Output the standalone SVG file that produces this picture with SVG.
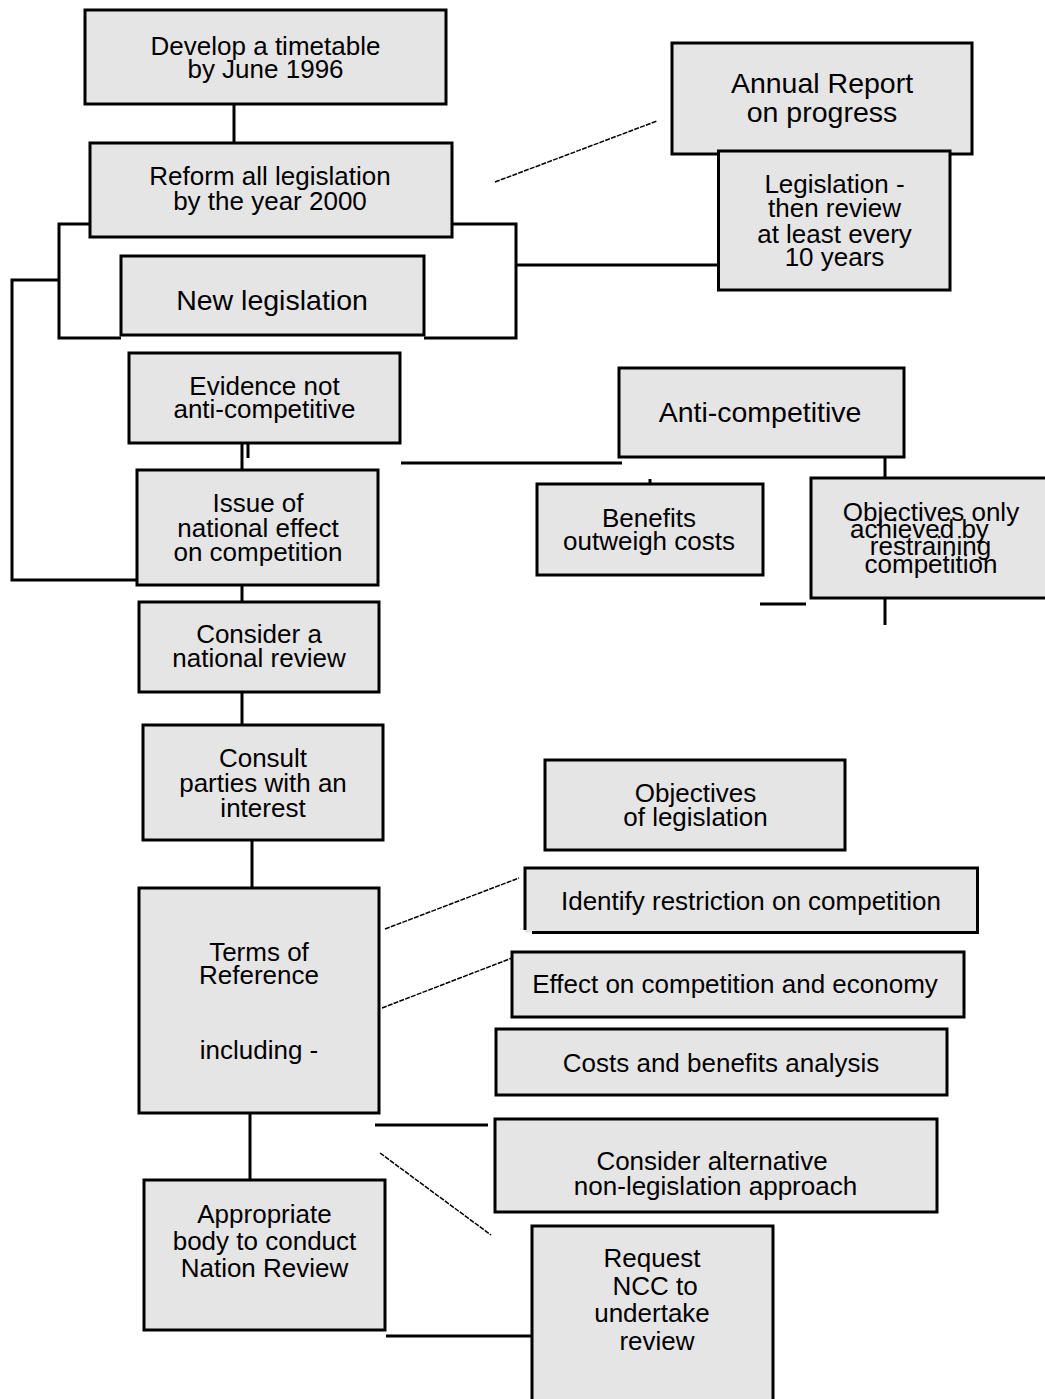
<svg xmlns="http://www.w3.org/2000/svg" width="1045" height="1399" viewBox="0 0 1045 1399">
  <style>
    .box { fill: #e5e5e5; stroke: #000; stroke-width: 3; }
    .ln { fill: none; stroke: #000; stroke-width: 3; }
    .dash { fill: none; stroke: #000; stroke-width: 1.5; stroke-dasharray: 5 1.2; }
    text { font-family: "Liberation Sans", Arial, Helvetica, sans-serif; font-size: 26px; fill: #000; text-anchor: middle; }
    .big { font-size: 28.5px; }
  </style>
  <rect width="1045" height="1399" fill="#fff"/>

  <!-- connectors -->
  <g id="connectors">
    <line class="ln" x1="234" y1="104" x2="234" y2="143"/>
    <!-- bracket around "New legislation" -->
    <path class="ln" d="M90,224 H59 V338 H121"/>
    <path class="ln" d="M424,338 H516 V224 H452"/>
    <line class="ln" x1="516" y1="265" x2="718" y2="265"/>
    <!-- outer loop to national-effect box -->
    <path class="ln" d="M59,280 H12 V580 H137"/>
    <line class="ln" x1="242" y1="443" x2="242" y2="470"/>
    <line class="ln" x1="248" y1="443" x2="248" y2="458"/>
    <line class="ln" x1="401" y1="463" x2="622" y2="463"/>
    <line class="ln" x1="885" y1="457" x2="885" y2="478"/>
    <line class="ln" x1="650" y1="479" x2="650" y2="484"/>
    <line class="ln" x1="885" y1="598" x2="885" y2="625"/>
    <line class="ln" x1="760" y1="604" x2="806" y2="604"/>
    <line class="ln" x1="242" y1="585" x2="242" y2="602"/>
    <line class="ln" x1="242" y1="692" x2="242" y2="725"/>
    <line class="ln" x1="252" y1="840" x2="252" y2="888"/>
    <line class="ln" x1="250" y1="1113" x2="250" y2="1180"/>
    <line class="ln" x1="375" y1="1125" x2="488" y2="1125"/>
    <line class="ln" x1="386" y1="1336" x2="532" y2="1336"/>
    <line class="dash" x1="495" y1="182" x2="657" y2="121"/>
    <line class="dash" x1="385" y1="929" x2="519" y2="878"/>
    <line class="dash" x1="382" y1="1008" x2="512" y2="958"/>
    <line class="dash" x1="380" y1="1153" x2="491" y2="1235"/>
  </g>

  <g id="timetable">
    <rect class="box" x="85" y="10" width="361" height="94"/>
    <text x="265.5"><tspan x="265.5" y="55">Develop a timetable</tspan><tspan x="265.5" y="78">by June 1996</tspan></text>
  </g>

  <g id="reform">
    <rect class="box" x="90" y="143" width="362" height="94"/>
    <text><tspan x="270" y="185">Reform all legislation</tspan><tspan x="270" y="210">by the year 2000</tspan></text>
  </g>

  <g id="new-legislation">
    <rect class="box" x="121" y="256" width="303" height="79"/>
    <text class="big" x="272" y="310">New legislation</text>
  </g>

  <g id="annual-report">
    <rect class="box" x="672" y="43" width="300" height="111"/>
    <text class="big"><tspan x="822" y="93">Annual Report</tspan><tspan x="822" y="122">on progress</tspan></text>
  </g>

  <g id="review-10-years">
    <rect class="box" x="718.5" y="151" width="231.5" height="139"/>
    <text><tspan x="834.5" y="193">Legislation -</tspan><tspan x="834.5" y="217">then review</tspan><tspan x="834.5" y="243">at least every</tspan><tspan x="834.5" y="266">10 years</tspan></text>
  </g>

  <g id="evidence">
    <rect class="box" x="129" y="353" width="271" height="90"/>
    <text><tspan x="264.5" y="395">Evidence not</tspan><tspan x="264.5" y="418">anti-competitive</tspan></text>
  </g>

  <g id="anti-competitive">
    <rect class="box" x="619" y="368" width="285" height="89"/>
    <text class="big" x="760" y="422">Anti-competitive</text>
  </g>

  <g id="benefits">
    <rect class="box" x="537" y="484" width="226" height="91"/>
    <text><tspan x="649" y="527">Benefits</tspan><tspan x="649" y="550">outweigh costs</tspan></text>
  </g>

  <g id="objectives-only">
    <rect class="box" x="811" y="478" width="240" height="120"/>
    <text><tspan x="931" y="521">Objectives only</tspan><tspan x="919.5" y="538">achieved by</tspan><tspan x="930.5" y="555">restraining</tspan><tspan x="931" y="573">competition</tspan></text>
  </g>

  <g id="national-effect">
    <rect class="box" x="137" y="470" width="241" height="115"/>
    <text><tspan x="258" y="512">Issue of</tspan><tspan x="258" y="537">national effect</tspan><tspan x="258" y="561">on competition</tspan></text>
  </g>

  <g id="national-review">
    <rect class="box" x="139" y="602" width="240" height="90"/>
    <text><tspan x="259" y="643">Consider a</tspan><tspan x="259" y="667">national review</tspan></text>
  </g>

  <g id="consult">
    <rect class="box" x="143" y="725" width="240" height="115"/>
    <text><tspan x="263" y="767">Consult</tspan><tspan x="263" y="792">parties with an</tspan><tspan x="263" y="817">interest</tspan></text>
  </g>

  <g id="terms">
    <rect class="box" x="139" y="888" width="240" height="225"/>
    <text><tspan x="259" y="961">Terms of</tspan><tspan x="259" y="984">Reference</tspan><tspan x="259" y="1059">including -</tspan></text>
  </g>

  <g id="objectives-legislation">
    <rect class="box" x="545" y="760" width="300" height="90"/>
    <text><tspan x="695.5" y="802">Objectives</tspan><tspan x="695.5" y="826">of legislation</tspan></text>
  </g>

  <g id="identify-restriction">
    <rect x="525" y="868" width="452.5" height="64.5" fill="#e5e5e5"/>
    <path class="ln" d="M525,930 V868 H977.5 V932.5 H532"/>
    <text x="751" y="910">Identify restriction on competition</text>
  </g>

  <g id="effect-economy">
    <rect class="box" x="512" y="952" width="452" height="65"/>
    <text x="735" y="993">Effect on competition and economy</text>
  </g>

  <g id="costs-benefits">
    <rect class="box" x="496" y="1029" width="451" height="66"/>
    <text x="721" y="1072">Costs and benefits analysis</text>
  </g>

  <g id="alternative-approach">
    <rect class="box" x="495" y="1119" width="442" height="93"/>
    <text><tspan x="712" y="1170">Consider alternative</tspan><tspan x="715.5" y="1195">non-legislation approach</tspan></text>
  </g>

  <g id="appropriate-body">
    <rect class="box" x="144" y="1180" width="241" height="150"/>
    <text><tspan x="264.5" y="1223">Appropriate</tspan><tspan x="264.5" y="1250">body to conduct</tspan><tspan x="264.5" y="1277">Nation Review</tspan></text>
  </g>

  <g id="request-ncc">
    <rect class="box" x="532" y="1226" width="241" height="190"/>
    <text><tspan x="652" y="1267">Request</tspan><tspan x="655" y="1295">NCC to</tspan><tspan x="652" y="1322">undertake</tspan><tspan x="657" y="1350">review</tspan></text>
  </g>
</svg>
